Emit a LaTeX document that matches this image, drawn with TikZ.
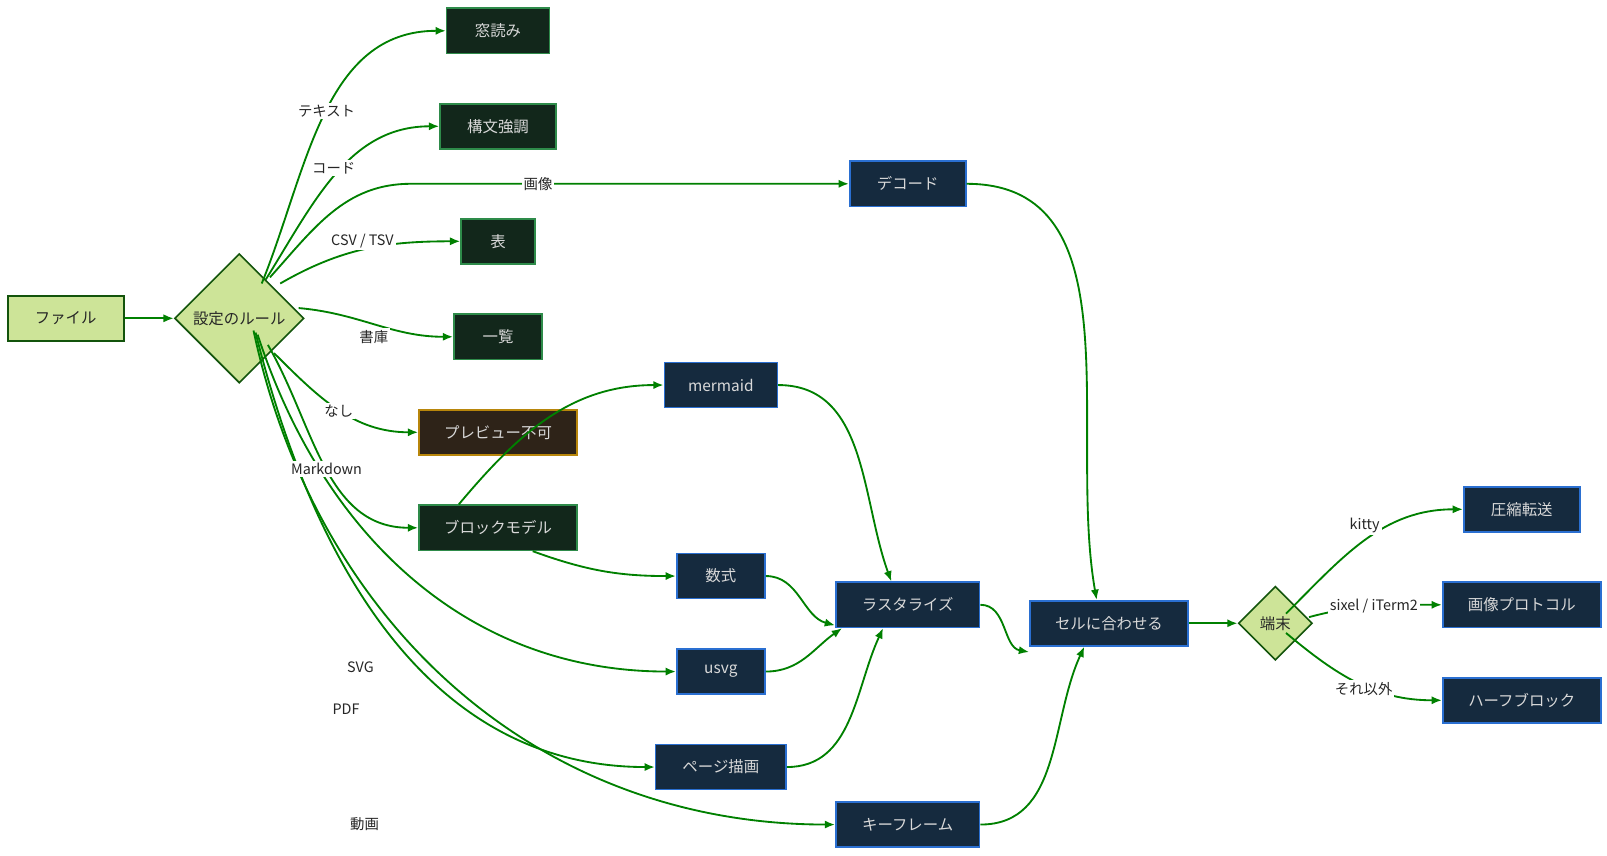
\documentclass[tikz,border=0pt]{standalone}
\usepackage{fontspec}
\setmainfont{Noto Sans CJK JP}
\usetikzlibrary{shapes.geometric,arrows.meta}
\definecolor{eg}{HTML}{008000}
\definecolor{lg}{HTML}{CDE498}
\definecolor{lgb}{HTML}{13540C}
\definecolor{dgf}{HTML}{12271B}
\definecolor{dgb}{HTML}{2E8B4A}
\definecolor{dbf}{HTML}{152A3E}
\definecolor{dbb}{HTML}{2A6FD1}
\definecolor{brf}{HTML}{2E2318}
\definecolor{brb}{HTML}{B8860B}
\begin{document}
\begin{tikzpicture}[x=0.5pt,y=-0.5pt,
 base/.style={draw,line width=0.8pt,minimum height=22pt,inner sep=0pt,font=\fontsize{7.5}{9}\selectfont},
 lgn/.style={base,fill=lg,draw=lgb,text=black!85},
 dgn/.style={base,fill=dgf,draw=dgb,text=white!85!black},
 dbn/.style={base,fill=dbf,draw=dbb,text=white!85!black},
 brn/.style={base,fill=brf,draw=brb,text=white!85!black},
 dia/.style={diamond,draw=lgb,fill=lg,line width=0.8pt,aspect=1,inner sep=0pt,text=black!85,font=\fontsize{7.5}{9}\selectfont},
 e/.style={draw=eg,line width=0.9pt,-{Latex[length=5pt,width=4pt]}},
 lb/.style={fill=white,inner sep=1pt,text=black!85,font=\fontsize{7}{8}\selectfont}]
\useasboundingbox (0,0) rectangle (1565,833);
\node[lgn,minimum width=56.5pt] (file) at (64,310) {ファイル};
\node[dia,minimum width=63pt,minimum height=63pt] (d) at (233,310) {設定のルール};
\node[dgn,minimum width=50pt] (mado) at (485,30) {窓読み};
\node[dgn,minimum width=56.5pt] (kobun) at (485,123) {構文強調};
\node[dbn,minimum width=56.5pt] (dec) at (884,179) {デコード};
\node[dgn,minimum width=36pt] (hyo) at (485,235) {表};
\node[dgn,minimum width=43pt] (ichi) at (485,328) {一覧};
\node[brn,minimum width=77pt] (fuka) at (485,421) {プレビュー不可};
\node[dbn,minimum width=55pt] (mer) at (702,375) {mermaid};
\node[dgn,minimum width=77pt] (blk) at (485,514) {ブロックモデル};
\node[dbn,minimum width=43pt] (sus) at (702,561) {数式};
\node[dbn,minimum width=70pt] (ras) at (884,589) {ラスタライズ};
\node[dbn,minimum width=43pt] (usvg) at (702,654) {usvg};
\node[dbn,minimum width=63.5pt] (page) at (702,747) {ページ描画};
\node[dbn,minimum width=70pt] (key) at (884,803) {キーフレーム};
\node[dbn,minimum width=77pt] (cell) at (1080,607) {セルに合わせる};
\node[dia,minimum width=36pt,minimum height=36pt] (t) at (1242,607) {端末};
\node[dbn,minimum width=56.5pt] (ako) at (1482,496) {圧縮転送};
\node[dbn,minimum width=77pt] (gazo) at (1482,589) {画像プロトコル};
\node[dbn,minimum width=77pt] (half) at (1482,682) {ハーフブロック};

\draw[e] (file) -- (d);
\draw[e] (d.north east) ++(-10,-2) to[out=68,in=180] (mado.west);
\draw[e] ([shift={(-6,-6)}]d.north east) to[out=58,in=180] (kobun.west);
\draw[e] ([shift={(-2,-8)}]d.north east) to[out=48,in=180] (400,179) -- (dec.west);
\draw[e] ([shift={(8,-2)}]d.north east) to[out=30,in=180] (hyo.west);
\draw[e] ([shift={(-6,-10)}]d.east) to[out=-5,in=180] (ichi.west);
\draw[e] ([shift={(2,2)}]d.south east) to[out=-45,in=180] (fuka.west);
\draw[e] ([shift={(-4,-6)}]d.south east) to[out=-60,in=180] (blk.west);
\draw[e] ([shift={(-14,-16)}]d.south east) to[out=-72,in=180] (usvg.west);
\draw[e] ([shift={(-16,-18)}]d.south east) to[out=-76,in=180] (page.west);
\draw[e] ([shift={(-18,-20)}]d.south east) to[out=-78,in=180] (key.west);
\draw[e] ([xshift=-58]blk.north east) to[out=50,in=180] (mer.west);
\draw[e] ([xshift=-22]blk.south east) to[out=-20,in=180] (sus.west);
\draw[e] (mer.east) to[out=0,in=110] ([xshift=-8]ras.north);
\draw[e] (sus.east) to[out=0,in=165] ([yshift=-10]ras.west);
\draw[e] (usvg.east) to[out=0,in=-145] ([xshift=-32]ras.south);
\draw[e] (page.east) to[out=0,in=-115] ([xshift=-12]ras.south);
\draw[e] (dec.east) to[out=0,in=100] ([xshift=-6]cell.north);
\draw[e] (ras.east) to[out=0,in=170] ([yshift=-14]cell.west);
\draw[e] (key.east) to[out=0,in=-115] ([xshift=-12]cell.south);
\draw[e] (cell) -- (t);
\draw[e] ([shift={(-8,9)}]t.north east) to[out=45,in=180] (ako.west);
\draw[e] ([shift={(-4,-6)}]t.east) to[out=15,in=180] (gazo.west);
\draw[e] ([shift={(-8,-9)}]t.south east) to[out=-40,in=180] (half.west);

\node[lb] (l1) at (318,108) {テキスト};
\node[lb] (l2) at (325,164) {コード};
\node[lb] (l3) at (524,179) {画像};
\node[lb] (l4) at (353,235) {CSV / TSV};
\node[lb] (l5) at (364,328) {書庫};
\node[lb] (l6) at (330,400) {なし};
\node[lb] (l7) at (318,457) {Markdown};
\node[lb] (l8) at (351,650) {SVG};
\node[lb] (l9) at (337,691) {PDF};
\node[lb] (l10) at (355,803) {動画};
\node[lb] (l11) at (1329,512) {kitty};
\node[lb] (l12) at (1338,590) {sixel / iTerm2};
\node[lb] (l13) at (1328,671) {それ以外};
\end{tikzpicture}
\end{document}
